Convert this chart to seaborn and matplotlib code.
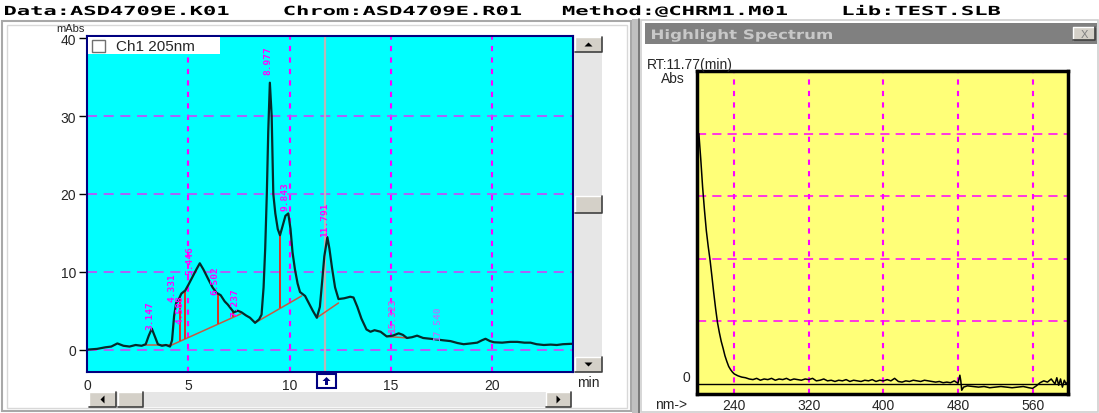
import matplotlib
matplotlib.use("Agg")

import matplotlib.pyplot as plt
import matplotlib.patches as mpatches
import numpy as np
import pandas as pd
import seaborn as sns
from matplotlib.font_manager import FontProperties
from matplotlib.textpath import TextPath
from matplotlib.transforms import Affine2D

# chromatogram, channel 1 at 205 nm (mAbs vs min)
time_min = [0, 0.5, 0.9, 1.2, 1.5, 1.8, 2.1, 2.4, 2.7, 2.9, 3.05, 3.2, 3.35, 3.5, 3.7, 3.9,
            4.1, 4.2, 4.3, 4.4, 4.5, 4.66, 4.85, 5.0, 5.2, 5.4, 5.57, 5.75, 6.0, 6.2, 6.4,
            6.6, 6.8, 6.95, 7.1, 7.25, 7.45, 7.63, 7.85, 8.05, 8.3, 8.5, 8.62, 8.72, 8.8,
            8.88, 8.95, 9.03, 9.12, 9.2, 9.3, 9.42, 9.53, 9.65, 9.8, 9.94, 10.05, 10.15,
            10.27, 10.4, 10.52, 10.77, 10.95, 11.15, 11.35, 11.5, 11.62, 11.72, 11.87,
            11.97, 12.1, 12.25, 12.42, 12.7, 13.0, 13.16, 13.35, 13.55, 13.8, 14.0, 14.2,
            14.5, 14.8, 15.1, 15.39, 15.6, 15.8, 16.05, 16.3, 16.6, 16.95, 17.3, 17.6,
            17.95, 18.3, 18.6, 18.95, 19.27, 19.5, 19.68, 19.9, 20.1, 20.5, 20.9, 21.25,
            21.6, 21.9, 22.2, 22.56, 22.9, 23.2, 23.5, 23.9, 24.0]
signal_mabs = [0.0, 0.1, 0.3, 0.4, 0.8, 0.5, 0.4, 0.6, 0.5, 0.7, 1.8, 2.7, 1.7, 0.7, 0.5, 0.6,
               0.4, 1.2, 4.3, 6.0, 6.3, 7.2, 7.6, 8.3, 9.3, 10.3, 11.1, 10.3, 9.0, 8.0, 7.3,
               7.0, 6.2, 5.8, 5.3, 4.8, 5.0, 4.8, 4.4, 4.1, 3.45, 3.9, 4.5, 8.0, 13.0,
               20.0, 28.0, 34.3, 30.0, 20.0, 17.5, 15.5, 14.7, 15.8, 17.2, 17.5, 15.5, 12.5,
               10.3, 8.5, 7.4, 6.9, 6.0, 5.0, 4.1, 5.5, 9.0, 12.0, 14.45,
               13.0, 10.5, 8.0, 6.5, 6.6, 6.8, 6.7, 5.5, 4.0, 2.6, 2.3, 2.5,
               2.3, 1.7, 1.8, 2.1, 1.9, 1.5, 1.6, 1.8, 1.5, 1.4, 1.3, 1.2,
               1.1, 0.85, 0.7, 0.8, 0.9, 1.2, 1.4, 1.1, 0.95, 0.9, 1.0, 1.0,
               0.9, 0.9, 0.7, 0.6, 0.65, 0.6, 0.7, 0.75, 0.75]

# integration baselines and drop lines
baseline_t0 = [2.8, 4.1, 8.3, 11.35, 14.8]
baseline_v0 = [0.6, 0.5, 3.45, 4.1, 1.7]
baseline_t1 = [4.1, 7.6, 10.6, 12.42, 15.85]
baseline_v1 = [0.6, 4.6, 6.9, 6.0, 1.5]
drop_t = [4.58, 4.83, 6.45, 7.22, 9.53]

peak_labels = ["3.147", "4.331", "4.588", "5.446", "6.502", "7.237", "8.977", "9.843",
               "11.791", "15.323", "17.540"]
label_x = [3.1, 4.2, 4.58, 5.08, 6.3, 7.32, 8.94, 9.78, 11.72, 15.1, 17.3]
label_y = [2.6, 6.2, 3.4, 9.7, 7.1, 4.3, 35.4, 17.9, 14.6, 2.3, 1.3]
label_colors = ["#FF00FF"] * 9 + ["#D850E8", "#A080FF"]

cursor_rt = 11.77

# highlight spectrum at RT 11.77 min
wavelength_nm = [202, 204, 206, 208, 210, 212, 214, 216, 218, 220, 222, 224, 226, 228, 230,
                 232, 234, 236, 238, 240, 244, 248, 252, 256, 260, 264, 268, 272, 276, 280,
                 284, 288, 292, 296, 300, 304, 308, 312, 316, 320, 324, 328, 332, 336, 340,
                 344, 348, 352, 356, 360, 364, 368, 372, 376, 380, 384, 388, 392, 396, 400,
                 404, 408, 412, 416, 420, 424, 428, 432, 436, 440, 444, 448, 452, 456, 460,
                 464, 468, 472, 476, 480, 482, 483, 484, 486, 490, 496, 502, 508, 514, 520,
                 526, 532, 538, 544, 550, 556, 560, 564, 568, 572, 576, 580, 584, 586, 588,
                 590, 592, 594, 596, 598]
absorbance = [4.0, 3.6, 3.15, 2.78, 2.45, 2.2, 1.98, 1.72, 1.45, 1.2, 0.98, 0.82, 0.68, 0.57, 0.45,
              0.36, 0.28, 0.23, 0.19, 0.16, 0.13, 0.11, 0.10, 0.08, 0.07, 0.09, 0.06, 0.08, 0.07, 0.09,
              0.06, 0.08, 0.07, 0.09, 0.06, 0.08, 0.07, 0.06, 0.08, 0.07, 0.09, 0.05, 0.06, 0.08, 0.05,
              0.06, 0.04, 0.06, 0.05, 0.07, 0.04, 0.06, 0.05, 0.04, 0.06, 0.05, 0.07, 0.04, 0.06, 0.05,
              0.07, 0.05, 0.09, 0.04, 0.03, 0.05, 0.04, 0.06, 0.05, 0.04, 0.06, 0.05, 0.04, 0.03, 0.04,
              0.02, 0.03, 0.02, 0.05, 0.01, 0.14, 0.05, -0.1, -0.05, -0.03, -0.04, -0.05, -0.04, -0.06, -0.05,
              -0.04, -0.05, -0.06, -0.05, -0.04, -0.06, -0.07, -0.03, 0.02, 0.05, 0.03, 0.08, 0.0, 0.1, -0.02,
              0.08, -0.05, 0.06, 0.0, 0.04]

header = "Data:ASD4709E.K01    Chrom:ASD4709E.R01   Method:@CHRM1.M01    Lib:TEST.SLB"

sns.set_style("white")
plt.rcParams["font.family"] = ["Liberation Sans", "DejaVu Sans"]

W, H = 1099, 414
fig = plt.figure(figsize=(W / 100, H / 100), dpi=100)
fig.patch.set_facecolor("white")


def px_axes(x0, y0, x1, y1, **kw):
    return fig.add_axes([x0 / W, 1 - y1 / H, (x1 - x0) / W, (y1 - y0) / H], **kw)


# ---- chromatogram ----
ax = px_axes(87, 37, 573, 373, zorder=2)
ax.set_facecolor("#00FFFF")
for x in [5, 10, 15, 20]:
    ax.axvline(x, color="#FF00FF", lw=1.5, ls=(0, (2.5, 3)), zorder=0.5)
for y in [0, 10, 20, 30]:
    ax.axhline(y, color="#C848F8", lw=1.2, ls=(0, (6, 4)), zorder=0.5)
ax.axvline(cursor_rt, color="#B8B8B8", lw=1.6, zorder=0.6)

for t0, v0, t1, v1 in zip(baseline_t0, baseline_v0, baseline_t1, baseline_v1):
    ax.plot([t0, t1], [v0, v1], color="#C85A40", lw=1.1, zorder=1.5)
for t in drop_t:
    for t0, v0, t1, v1 in zip(baseline_t0, baseline_v0, baseline_t1, baseline_v1):
        if t0 <= t <= t1:
            low = np.interp(t, [t0, t1], [v0, v1])
            high = np.interp(t, time_min, signal_mabs)
            ax.vlines(t, low, high, color="#E03020", lw=1.4, zorder=1.6)

chrom = pd.DataFrame({"Time (min)": time_min, "mAbs": signal_mabs})
sns.lineplot(data=chrom, x="Time (min)", y="mAbs", ax=ax, color="#062a2a",
             linewidth=1.6, estimator=None, sort=False, zorder=2)

for s, x, y, c in zip(peak_labels, label_x, label_y, label_colors):
    ax.text(x, y, s, rotation=90, ha="center", va="bottom", fontsize=6.8,
            color=c, family="DejaVu Sans Mono", fontweight="bold", zorder=3)

ax.set_xlim(0, 24.0)
ax.set_ylim(-2.87, 40.3)
ax.set_xticks([0, 5, 10, 15, 20])
ax.set_yticks([0, 10, 20, 30, 40])
ax.tick_params(axis="x", length=0, pad=4, labelsize=10)
ax.tick_params(axis="y", length=6, width=1, color="black", pad=2, labelsize=10, left=True)
ax.set_xlabel("")
ax.set_ylabel("")
for sp in ax.spines.values():
    sp.set_color("#000080")
    sp.set_linewidth(1.5)

# ---- spectrum ----
ax2 = px_axes(697, 72, 1068, 395, zorder=2)
ax2.set_facecolor("#FFFF78")
for x in [240, 320, 400, 480, 560]:
    ax2.axvline(x, color="#FF00FF", lw=1.5, ls=(0, (2.5, 3)), zorder=0.5)
for y in [1, 2, 3, 4]:
    ax2.axhline(y, color="#FF00FF", lw=1.1, ls=(0, (6, 4)), zorder=0.5)
ax2.axhline(0, color="black", lw=1.0, zorder=0.6)
spec = pd.DataFrame({"nm": wavelength_nm, "Abs": absorbance})
sns.lineplot(data=spec, x="nm", y="Abs", ax=ax2, color="black", linewidth=1.1,
             estimator=None, sort=False, zorder=2)
ax2.set_xlim(200, 598)
ax2.set_ylim(-0.16, 5.0)
ax2.set_xticks([240, 320, 400, 480, 560])
ax2.set_yticks([])
ax2.tick_params(axis="x", length=0, pad=3, labelsize=10)
ax2.set_xlabel("")
ax2.set_ylabel("")
for sp in ax2.spines.values():
    sp.set_color("black")
    sp.set_linewidth(2.5)

# ---- window chrome (pixel overlay) ----
ov = fig.add_axes([0, 0, 1, 1], zorder=10)
ov.set_xlim(0, W)
ov.set_ylim(H, 0)
ov.axis("off")
ov.patch.set_alpha(0)


def box(x0, y0, x1, y1, **kw):
    ov.add_patch(mpatches.Rectangle((x0, y0), x1 - x0, y1 - y0, **kw))


def button(x0, y0, x1, y1):
    box(x0, y0, x1, y1, fc="#D4D0C8", ec="none")
    ov.plot([x0, x0, x1], [y1, y0, y0], color="white", lw=1)
    ov.plot([x0, x1, x1], [y1, y1, y0], color="#404040", lw=1.2)


def tri(cx, cy, d, s=4, color="black"):
    pts = {"up": [(cx - s, cy + s / 2), (cx + s, cy + s / 2), (cx, cy - s / 2)],
           "down": [(cx - s, cy - s / 2), (cx + s, cy - s / 2), (cx, cy + s / 2)],
           "left": [(cx + s / 2, cy - s), (cx + s / 2, cy + s), (cx - s / 2, cy)],
           "right": [(cx - s / 2, cy - s), (cx - s / 2, cy + s), (cx + s / 2, cy)]}[d]
    ov.add_patch(mpatches.Polygon(pts, closed=True, fc=color, ec="none"))


def wide_text(s, x, base, size, width, color, family, weight="bold"):
    # text drawn as a path, stretched sideways to the screen font's width
    tp = TextPath((0, 0), s, size=size, prop=FontProperties(family=family, weight=weight))
    ext = tp.get_extents()
    sx = width / ext.width
    path = Affine2D().translate(-ext.x0, 0).scale(sx, -1).translate(x, base).transform_path(tp)
    ov.add_patch(mpatches.PathPatch(path, fc=color, ec="none"))


# header line
wide_text(header, 5, 16, 12.5, 995, "black", "DejaVu Sans Mono")

# left window frame
box(2, 22, 631, 412, fc="none", ec="#A8A8A8", lw=1.5)
box(7, 26, 627, 409, fc="none", ec="#D8D8D8", lw=1)
box(632, 20, 638, 414, fc="#C0C0C0", ec="none")
ov.plot([639, 639], [20, 414], color="#606060", lw=1.2)
# right window frame + title bar
box(641, 21, 1098, 413, fc="none", ec="#D0D0D0", lw=1.2)
box(645, 24, 1097, 45, fc="#808080", ec="none")
wide_text("Highlight Spectrum", 652, 40, 13, 180, "#C8C8C8", "DejaVu Sans")
button(1073, 28, 1095, 41)
ov.text(1084, 34.5, "X", ha="center", va="center", fontsize=8, color="#808080")

# left-panel labels
ov.text(85, 29, "mAbs", ha="right", va="center", fontsize=8)
ov.text(577, 383, "min", ha="left", va="center", fontsize=10)
box(88, 38, 220, 55, fc="white", ec="none")
box(92, 41, 105, 53, fc="white", ec="#707070", lw=1)
ov.text(116, 47, "Ch1 205nm", ha="left", va="center", fontsize=11)

# cursor marker
box(317, 375, 336, 389, fc="white", ec="#000080", lw=1.5)
tri(326.5, 380, "up", s=4, color="#000080")
box(325, 381, 328, 386, fc="#000080", ec="none")

# vertical scrollbar
box(574, 38, 602, 373, fc="#E6E6E6", ec="none")
button(575, 38, 602, 53)
tri(588.5, 45.5, "up")
button(575, 197, 602, 214)
button(575, 358, 602, 373)
tri(588.5, 365.5, "down")

# horizontal scrollbar
box(89, 393, 571, 408, fc="#E6E6E6", ec="none")
button(89, 393, 116, 408)
tri(102.5, 400.5, "left")
button(118, 393, 143, 408)
button(546, 393, 571, 408)
tri(558.5, 400.5, "right")

# right-panel labels
ov.text(647, 65, "RT:11.77(min)", ha="left", va="center", fontsize=10)
ov.text(673, 79, "Abs", ha="center", va="center", fontsize=10)
ov.text(690, 378, "0", ha="right", va="center", fontsize=10)
ov.text(655, 405, "nm->", ha="left", va="center", fontsize=10)

fig.savefig("out.png", dpi=100)
plt.close(fig)
print("Saved out.png")
